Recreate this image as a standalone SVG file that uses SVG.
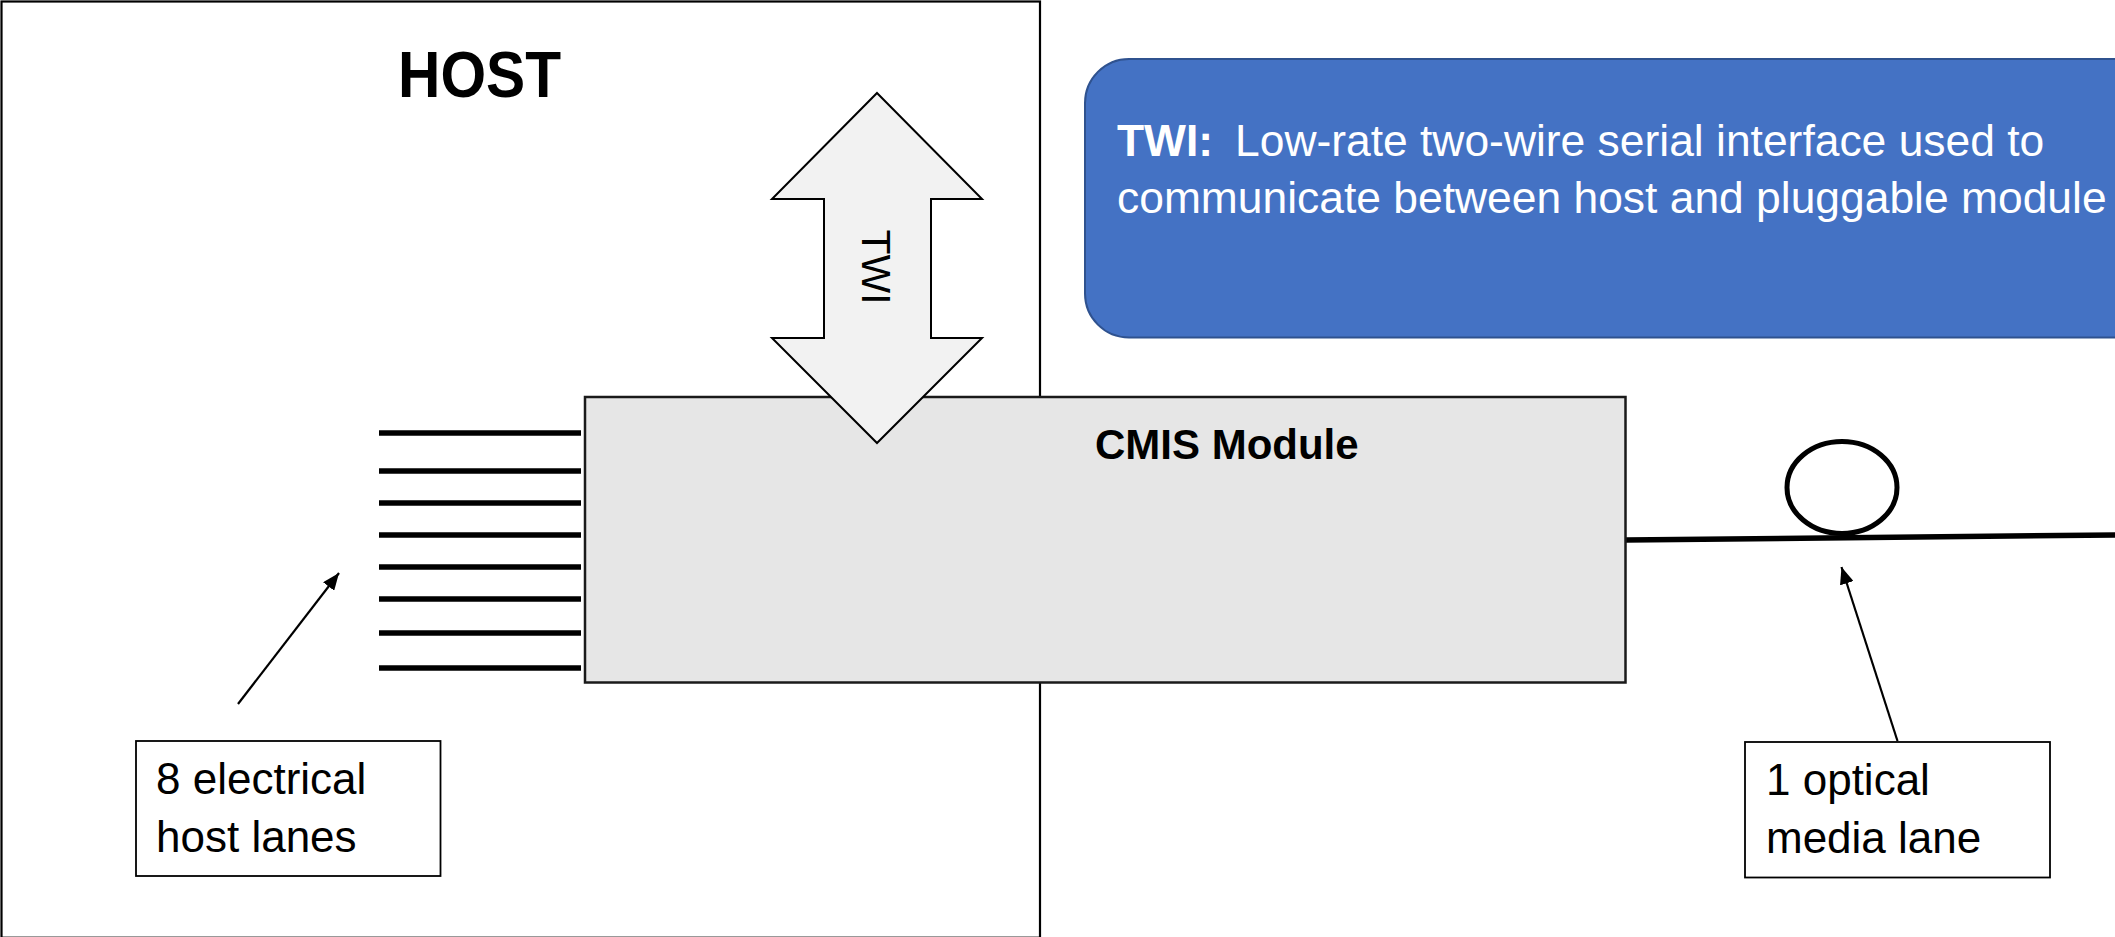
<svg xmlns="http://www.w3.org/2000/svg" width="2115" height="937" viewBox="0 0 2115 937">
  <style>
    .txt { font-family: "Liberation Sans", Arial, sans-serif; fill: #000; }
    .bold { font-weight: bold; }
    .label-box { fill: #fff; stroke: #000; stroke-width: 1.8; }
    .lane { stroke: #000; stroke-width: 5.5; }
    .pointer { stroke: #000; stroke-width: 2.2; fill: none; marker-end: url(#arrowhead); }
    .white { fill: #fff; }
  </style>
  <defs>
    <marker id="arrowhead" markerUnits="userSpaceOnUse" markerWidth="18" markerHeight="14" refX="17" refY="7" orient="auto">
      <path d="M0,0 L17,7 L0,14 z" fill="#000"/>
    </marker>
  </defs>

  <rect width="2115" height="937" fill="#fff"/>

  <!-- Host enclosure -->
  <g id="host">
    <rect x="1.5" y="1.5" width="1038.5" height="936.2" fill="#fff" stroke="#000" stroke-width="2.2"/>
    <text class="txt bold" x="398" y="97" font-size="64" textLength="163" lengthAdjust="spacingAndGlyphs">HOST</text>
  </g>

  <!-- Description callout -->
  <g id="twi-note">
    <rect x="1085" y="59" width="1100" height="278.5" rx="44" ry="44" fill="#4472c4" stroke="#2f528f" stroke-width="2"/>
    <text class="txt white" font-size="44.4">
      <tspan class="bold" x="1117" y="156">TWI:</tspan><tspan x="1235" y="156">Low-rate two-wire serial interface used to</tspan>
      <tspan x="1117" y="213">communicate between host and pluggable module</tspan>
    </text>
  </g>

  <!-- Electrical host lanes -->
  <g id="host-lanes">
    <line class="lane" x1="379" y1="433" x2="581" y2="433"/>
    <line class="lane" x1="379" y1="471" x2="581" y2="471"/>
    <line class="lane" x1="379" y1="503" x2="581" y2="503"/>
    <line class="lane" x1="379" y1="535" x2="581" y2="535"/>
    <line class="lane" x1="379" y1="567" x2="581" y2="567"/>
    <line class="lane" x1="379" y1="599" x2="581" y2="599"/>
    <line class="lane" x1="379" y1="633" x2="581" y2="633"/>
    <line class="lane" x1="379" y1="668" x2="581" y2="668"/>
  </g>

  <!-- Optical media lane (fiber with loop) -->
  <g id="media-lane">
    <line x1="1626" y1="540" x2="2115" y2="535" stroke="#000" stroke-width="5.5"/>
    <ellipse cx="1842" cy="487.5" rx="55" ry="46" fill="#fff" stroke="#000" stroke-width="5"/>
  </g>

  <!-- Module -->
  <g id="cmis-module">
    <rect x="585" y="397" width="1040.5" height="285.5" fill="#e6e6e6" stroke="#1a1a1a" stroke-width="2.5"/>
    <text class="txt bold" x="1095" y="459" font-size="42">CMIS Module</text>
  </g>

  <!-- Two-wire interface double arrow -->
  <g id="twi-arrow">
    <path d="M877,93 L982,199 L931,199 L931,338 L982,338 L877,443 L772,338 L824,338 L824,199 L772,199 Z" fill="#f2f2f2" stroke="#000" stroke-width="2"/>
    <text class="txt" font-size="41" text-anchor="middle" transform="translate(862,267) rotate(90)">TWI</text>
  </g>

  <!-- Label boxes -->
  <g id="label-host-lanes">
    <rect class="label-box" x="136" y="741" width="304.5" height="135"/>
    <text class="txt" font-size="44">
      <tspan x="156" y="794">8 electrical</tspan>
      <tspan x="156" y="852">host lanes</tspan>
    </text>
  </g>
  <g id="label-media-lane">
    <rect class="label-box" x="1745" y="742" width="305" height="135.5"/>
    <text class="txt" font-size="44">
      <tspan x="1766" y="795">1 optical</tspan>
      <tspan x="1766" y="853">media lane</tspan>
    </text>
  </g>

  <!-- Pointer connectors -->
  <g id="connectors">
    <line class="pointer" x1="238" y1="704" x2="339" y2="573"/>
    <line class="pointer" x1="1897.5" y1="741" x2="1841.5" y2="567"/>
  </g>
</svg>
